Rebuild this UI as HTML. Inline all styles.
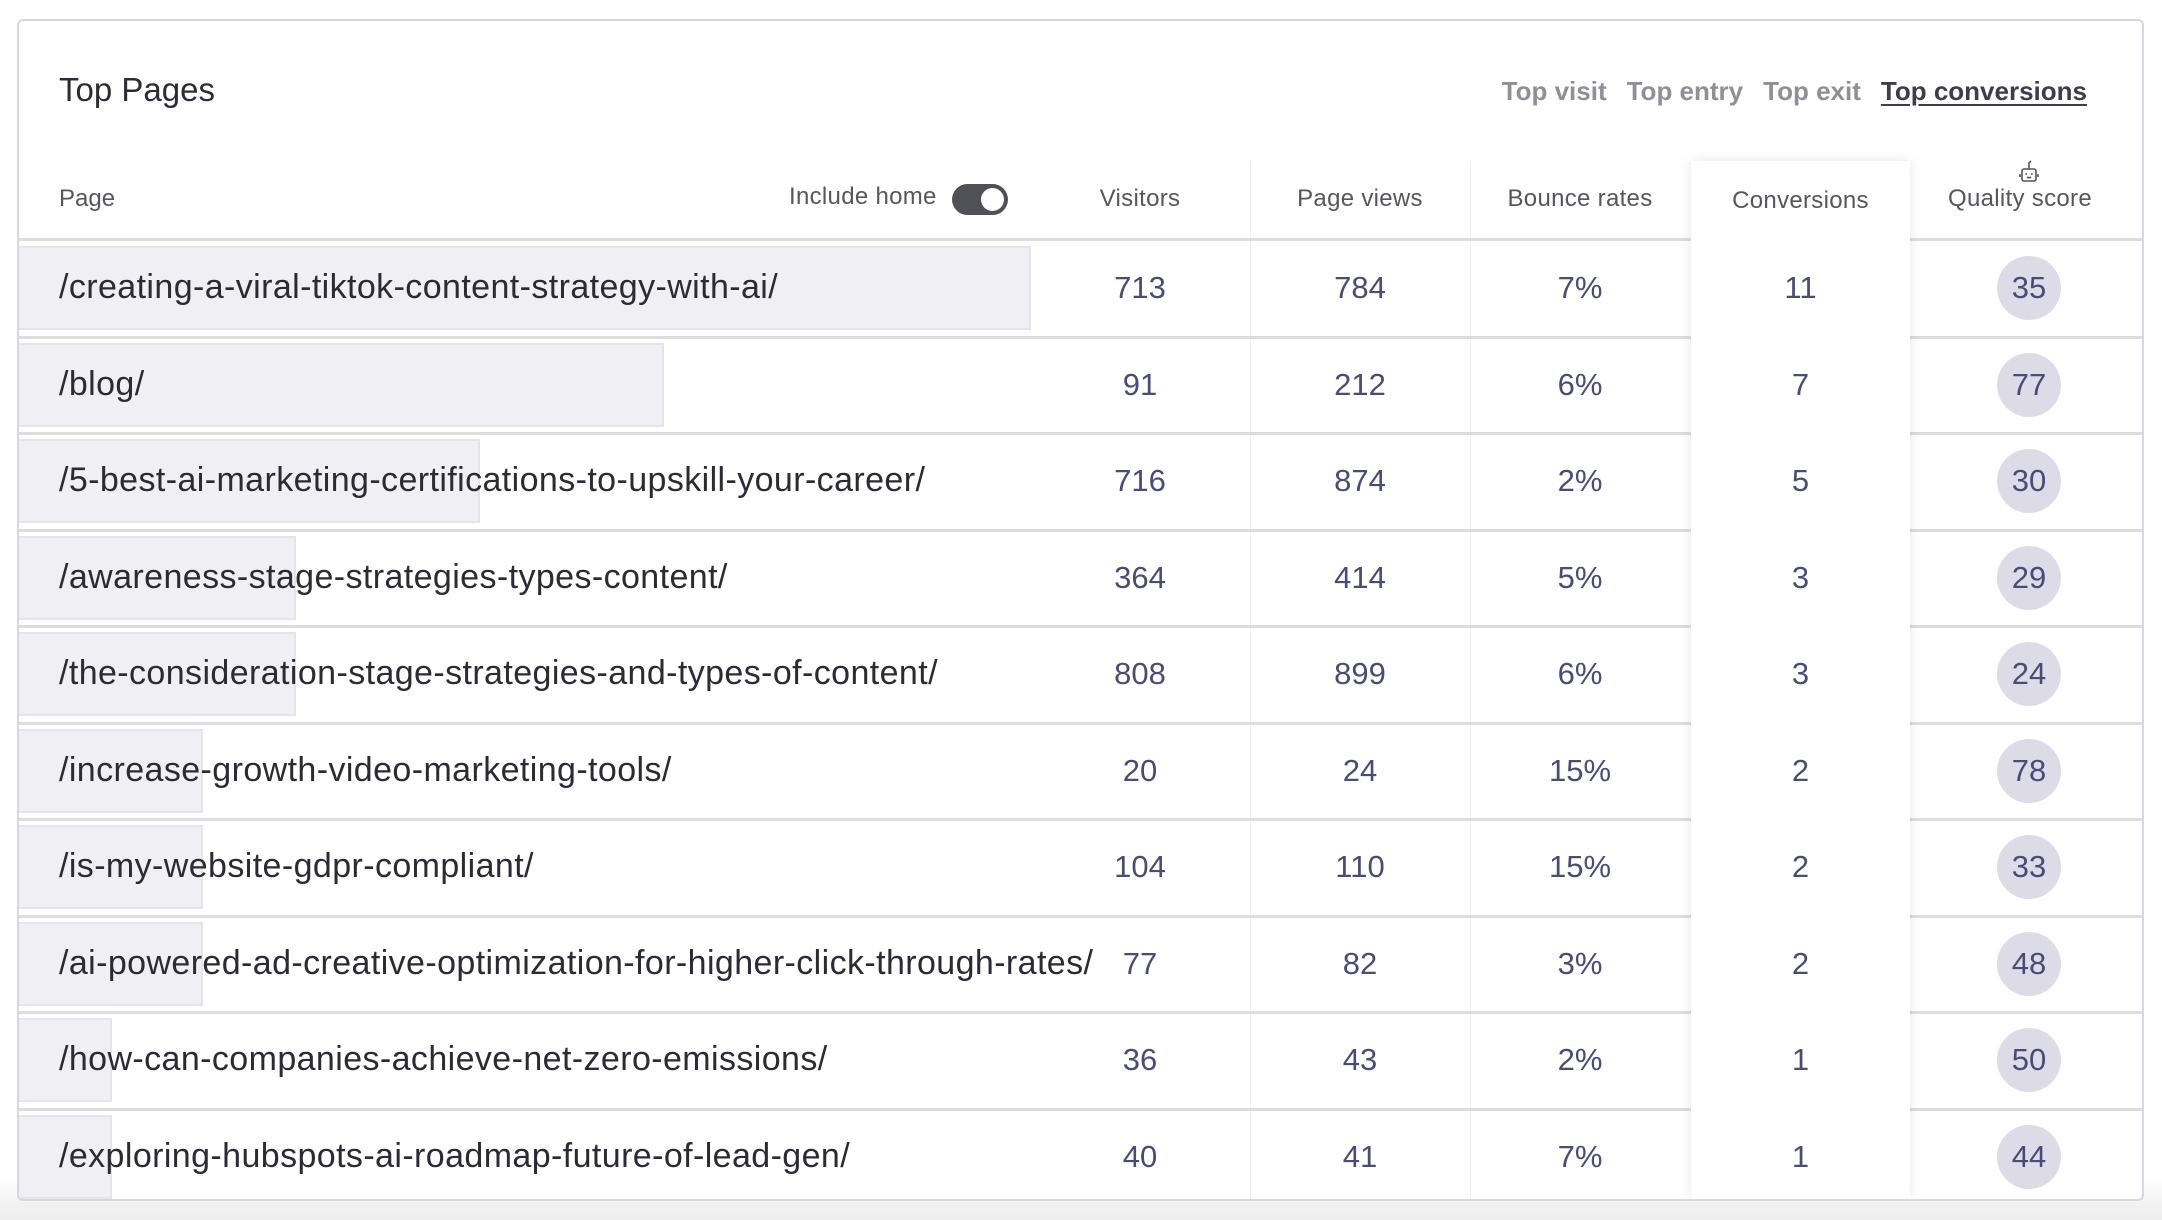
<!DOCTYPE html>
<html><head><meta charset="utf-8"><style>
*{margin:0;padding:0;box-sizing:border-box}
body{width:2162px;height:1220px;background:linear-gradient(#fff 0,#fff 1180px,#f1f1f1 1205px,#eeeeee 1220px);font-family:"Liberation Sans",sans-serif;position:relative;overflow:hidden}
.card{position:absolute;left:17px;top:19px;width:2127px;height:1182px;border:2px solid #d6d7e2;border-radius:6px;background:#fff;overflow:hidden}
.abs{position:absolute}
.title{left:40px;top:50px;font-size:33px;color:#2c2c34}
.tabs{right:55px;top:55px;font-size:26px;color:#8f8f96;white-space:nowrap;font-weight:bold}
.tabs span{margin-left:20px}
.tabs .act{color:#3d3d4c;text-decoration:underline;text-underline-offset:4px}
.hdr{top:164px;font-size:24px;color:#56565c;text-align:center;width:220px;letter-spacing:0.3px}
.vline{width:1px;background:#f0f0f2;top:140px;bottom:0}
.conv{left:1672px;width:219px;top:140px;bottom:0;background:#fff;box-shadow:0 0 12px rgba(0,0,0,0.10)}
.hline{left:0;right:0;height:3px;background:#dddde0}
.bar{left:0;height:84px;background:#efeff4;border:2px solid #e4e4ea;border-left:none}
.pg{left:40px;font-size:34px;color:#2b2b33;white-space:nowrap;letter-spacing:0.4px}
.num{font-size:31px;color:#4b4a78;text-align:center;width:220px}
.circ{width:64px;height:64px;border-radius:50%;background:#dddce6;font-size:31px;color:#4b4a78;text-align:center;line-height:64px}
.toggle{left:933px;top:163px;width:56px;height:31px;border-radius:16px;background:#505057}
.toggle:after{content:"";position:absolute;right:4px;top:4px;width:23px;height:23px;border-radius:50%;background:#fff}
</style></head><body>
<div class="card">
<div class="abs title">Top Pages</div>
<div class="abs tabs"><span>Top visit</span><span>Top entry</span><span>Top exit</span><span class="act">Top conversions</span></div>

<div class="abs vline" style="left:1231px"></div>
<div class="abs vline" style="left:1451px"></div>

<div class="abs" style="left:40px;top:164px;font-size:24px;color:#56565c">Page</div>
<div class="abs" style="left:770px;top:162px;font-size:24px;color:#56565c;letter-spacing:0.3px">Include home</div>
<div class="abs toggle"></div>
<div class="abs hdr" style="left:1011px">Visitors</div>
<div class="abs hdr" style="left:1231px">Page views</div>
<div class="abs hdr" style="left:1451px">Bounce rates</div>
<div class="abs hdr" style="left:1891px">Quality score</div>
<svg class="abs" style="left:1998px;top:139px" width="24" height="26" viewBox="0 0 24 26"><g fill="none" stroke="#555" stroke-width="1.6"><path d="M12 9V3l2-2"/><rect x="5" y="9" width="14" height="12" rx="2"/><path d="M3 14v3M21 14v3"/><path d="M8.5 13.5l1.5 1M15.5 13.5l-1.5 1M10 17q2 1.5 4 0"/></g></svg>

<div class="abs hline" style="top:217px"></div>

<div id="rows"></div>

<div class="abs conv">
<div class="abs hdr" style="left:0;width:219px;top:26px">Conversions</div>
</div>
<div id="conv"></div>
</div>
<script>
var d=[["/creating-a-viral-tiktok-content-strategy-with-ai/",1012,713,784,"7%",11,35],
["/blog/",645,91,212,"6%",7,77],
["/5-best-ai-marketing-certifications-to-upskill-your-career/",461,716,874,"2%",5,30],
["/awareness-stage-strategies-types-content/",277,364,414,"5%",3,29],
["/the-consideration-stage-strategies-and-types-of-content/",277,808,899,"6%",3,24],
["/increase-growth-video-marketing-tools/",184,20,24,"15%",2,78],
["/is-my-website-gdpr-compliant/",184,104,110,"15%",2,33],
["/ai-powered-ad-creative-optimization-for-higher-click-through-rates/",184,77,82,"3%",2,48],
["/how-can-companies-achieve-net-zero-emissions/",93,36,43,"2%",1,50],
["/exploring-hubspots-ai-roadmap-future-of-lead-gen/",93,40,41,"7%",1,44]];
var h="",c="";
for(var i=0;i<10;i++){var t=219+i*96.5,r=d[i],m=t+48;
if(i>0)h+='<div class="abs hline" style="top:'+(t-1)+'px"></div>';
h+='<div class="abs bar" style="top:'+(t+6)+'px;width:'+r[1]+'px"></div>';
h+='<div class="abs pg" style="top:'+(m-20)+'px">'+r[0]+'</div>';
h+='<div class="abs num" style="left:1011px;top:'+(m-18)+'px">'+r[2]+'</div>';
h+='<div class="abs num" style="left:1231px;top:'+(m-18)+'px">'+r[3]+'</div>';
h+='<div class="abs num" style="left:1451px;top:'+(m-18)+'px">'+r[4]+'</div>';
h+='<div class="abs circ" style="left:1978px;top:'+(m-32)+'px">'+r[6]+'</div>';
c+='<div class="abs num" style="left:1672px;width:219px;top:'+(m-18)+'px">'+r[5]+'</div>';}
document.getElementById("rows").outerHTML=h;
document.getElementById("conv").outerHTML=c;
</script>
</body></html>
